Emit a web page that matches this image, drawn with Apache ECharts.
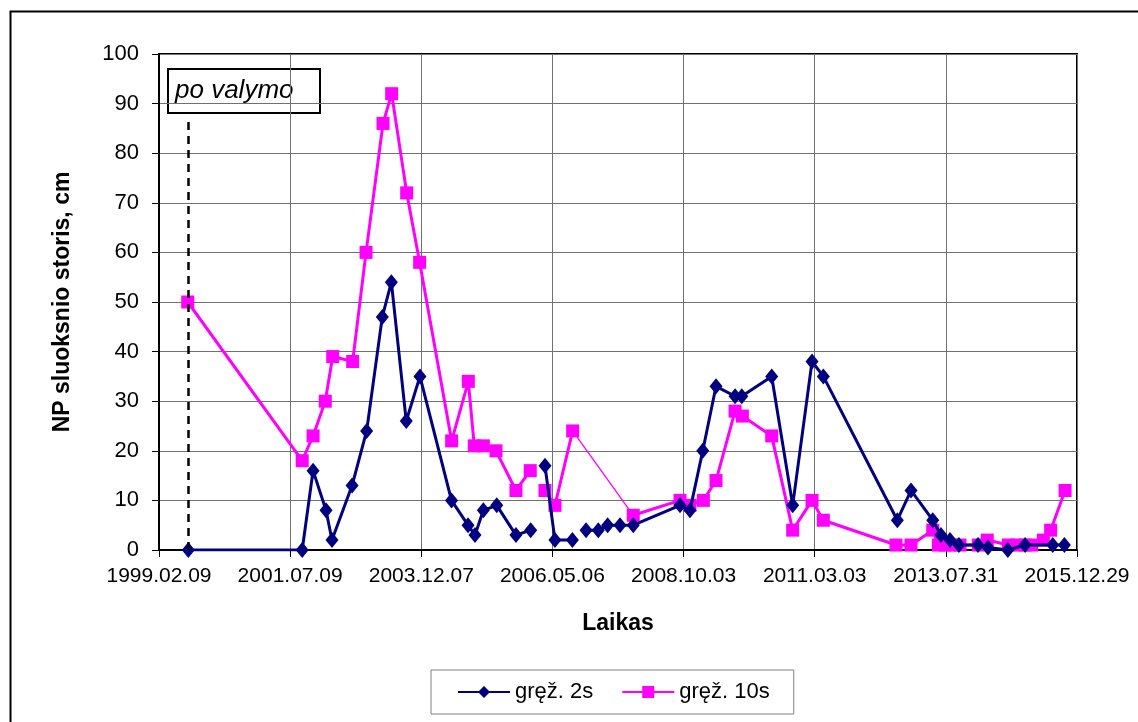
<!DOCTYPE html>
<html>
<head>
<meta charset="utf-8">
<script src="https://cdn.jsdelivr.net/npm/echarts@6/dist/echarts.min.js"></script>
<style>
  html, body { margin: 0; padding: 0; background: #fff; }
  #chart { width: 1138px; height: 722px; }
</style>
</head>
<body>
<div id="chart"></div>
<script>
// matavimų datos ir reikšmės (cm)
const dates2s = [
  '1999-08-25', '2001-09-28', '2001-12-10', '2002-03-07', '2002-04-16', '2002-08-29',
  '2002-12-05', '2003-03-20', '2003-05-20', '2003-08-28', '2003-11-28', '2004-06-27',
  '2004-10-16', '2004-12-02', '2005-01-27', '2005-04-27', '2005-09-03', '2005-12-11',
  '2006-03-17', '2006-05-23', '2006-09-17',
  '2006-12-18', '2007-03-10', '2007-05-12', '2007-08-03', '2007-10-31', '2008-09-09',
  '2008-11-15', '2009-02-09', '2009-05-09', '2009-09-14', '2009-10-29', '2010-05-18',
  '2010-10-06', '2011-02-13', '2011-04-30', '2012-09-08', '2012-12-09', '2013-05-04',
  '2013-06-28', '2013-08-28', '2013-10-27', '2014-03-04', '2014-05-10', '2014-09-20',
  '2015-01-14', '2015-07-19', '2015-10-05'
];
const vals2s = [
  0, 0, 16, 8, 2, 13,
  24, 47, 54, 26, 35, 10,
  5, 3, 8, 9, 3, 4,
  17, 2, 2,
  4, 4, 5, 5, 5, 9,
  8, 20, 33, 31, 31, 35,
  9, 38, 35, 6, 12, 6,
  3, 2, 1, 1, 0.5, 0,
  1, 1, 1
];
// linijos trūkiai: nuo šių indeksų prasideda nauja atkarpa
const segStarts2s = [0, 18, 21];

const dates10s = [
  '1999-08-21', '2001-09-28', '2001-12-10', '2002-03-02', '2002-04-21', '2002-09-02',
  '2002-12-01', '2003-03-25', '2003-05-22', '2003-08-31', '2003-11-26', '2004-06-28',
  '2004-10-18', '2004-11-27', '2005-01-27', '2005-04-22', '2005-09-03', '2005-12-08',
  '2006-03-17', '2006-05-23', '2006-09-19',
  '2007-10-31', '2008-09-09', '2008-11-15', '2009-02-13', '2009-05-09', '2009-09-14',
  '2009-11-02', '2010-05-18', '2010-10-06', '2011-02-13', '2011-04-30', '2012-08-30',
  '2012-12-09', '2013-05-04', '2013-06-11', '2013-07-26', '2013-09-19', '2013-11-03',
  '2014-03-06', '2014-05-05', '2014-09-24', '2014-11-19', '2015-01-14', '2015-02-28',
  '2015-05-17', '2015-07-05', '2015-10-10'
];
const vals10s = [
  50, 18, 23, 30, 39, 38,
  60, 86, 92, 72, 58, 22,
  34, 21, 21, 20, 12, 16,
  12, 9, 24,
  7, 10, 9, 10, 14, 28,
  27, 23, 4, 10, 6, 1,
  1, 4, 1, 1, 1, 1,
  1, 2, 1, 1, 1, 1,
  2, 4, 12
];
const segStarts10s = [0, 18, 21];
const thinLink10s = [20, 21]; // plona jungtis tarp šių taškų

const cleaningDate = '1999-08-22'; // "po valymo"
const axisStart = '1999-02-09';
const axisEnd = '2015-12-29';
const tickDays = 881;

const DAY = 86400000;
function toMs(s) {
  const p = s.split('-').map(Number);
  return Date.UTC(p[0], p[1] - 1, p[2]);
}
const base = toMs(axisStart);
const dayOf = s => (toMs(s) - base) / DAY;
const pad = n => (n < 10 ? '0' : '') + n;
function fmtDate(v) {
  const d = new Date(base + Math.round(v) * DAY);
  return d.getUTCFullYear() + '.' + pad(d.getUTCMonth() + 1) + '.' + pad(d.getUTCDate());
}

const BLUE = '#000080';
const PINK = '#FF00FF';
const NAME2 = 'gręž. 2s';
const NAME10 = 'gręž. 10s';
const FONT = 'Arial, "Liberation Sans", sans-serif';

function pairs(dates, vals, from, to) {
  const out = [];
  for (let i = from; i < to; i++) out.push([dayOf(dates[i]), vals[i]]);
  return out;
}

function buildSegments(dates, vals, starts, name, color, symbol, size) {
  return starts.map((s, k) => {
    const e = k + 1 < starts.length ? starts[k + 1] : dates.length;
    return {
      name: name,
      type: 'line',
      data: pairs(dates, vals, s, e),
      symbol: symbol,
      symbolSize: size,
      color: color,
      lineStyle: { color: color, width: 3 },
      itemStyle: { color: color },
      animation: false,
      z: symbol === 'rect' ? 3 : 4
    };
  });
}

const series = []
  .concat(buildSegments(dates10s, vals10s, segStarts10s, NAME10, PINK, 'rect', 13))
  .concat(buildSegments(dates2s, vals2s, segStarts2s, NAME2, BLUE, 'diamond', [13, 16]));

// plona rožinė jungtis
series.push({
  name: NAME10,
  type: 'line',
  data: pairs(dates10s, vals10s, thinLink10s[0], thinLink10s[1] + 1),
  symbol: 'none',
  lineStyle: { color: PINK, width: 1.3 },
  animation: false,
  z: 2
});

// punktyrinė linija "po valymo"
series.push({
  type: 'line',
  data: [],
  silent: true,
  animation: false,
  markLine: {
    silent: true,
    symbol: 'none',
    label: { show: false },
    lineStyle: { color: '#000', type: [8, 6], width: 2.5 },
    data: [[{ coord: [dayOf(cleaningDate), 0] }, { coord: [dayOf(cleaningDate), 86.5] }]]
  },
  z: 1
});

const chart = echarts.init(document.getElementById('chart'));
chart.setOption({
  backgroundColor: '#fff',
  animation: false,
  textStyle: { fontFamily: FONT, color: '#000' },
  grid: {
    left: 159, right: 61, top: 54, bottom: 172,
    show: true, borderColor: '#000', borderWidth: 2,
    outerBoundsMode: 'none'
  },
  legend: {
    data: [NAME2, NAME10],
    left: 431, top: 670, width: 363,
    padding: [11, 24, 11, 26],
    itemGap: 28,
    itemWidth: 52, itemHeight: 15,
    borderColor: '#808080', borderWidth: 1,
    backgroundColor: '#fff',
    textStyle: { fontSize: 22, color: '#000', fontFamily: FONT }
  },
  xAxis: {
    type: 'value',
    min: 0,
    max: dayOf(axisEnd),
    interval: tickDays,
    name: 'Laikas',
    nameLocation: 'middle',
    nameGap: 62,
    nameTextStyle: { fontSize: 23, fontWeight: 'bold', color: '#000' },
    axisLine: { lineStyle: { color: '#000', width: 2 } },
    axisTick: { show: true, length: 7, lineStyle: { color: '#000', width: 1 } },
    axisLabel: { fontSize: 21, color: '#000', margin: 16, formatter: fmtDate, showMaxLabel: true, showMinLabel: true },
    splitLine: { show: true, lineStyle: { color: '#707070', width: 1 } }
  },
  yAxis: {
    type: 'value',
    min: 0, max: 100, interval: 10,
    name: 'NP sluoksnio storis, cm',
    nameLocation: 'middle',
    nameGap: 85,
    nameRotate: 90,
    nameTextStyle: { fontSize: 23, fontWeight: 'bold', color: '#000' },
    axisLine: { show: true, lineStyle: { color: '#000', width: 2 } },
    axisTick: { show: true, length: 7, lineStyle: { color: '#000', width: 1 } },
    axisLabel: { fontSize: 22, color: '#000', margin: 20 },
    splitLine: { show: true, lineStyle: { color: '#707070', width: 1 } }
  },
  graphic: [
    {
      type: 'rect',
      left: 8, top: 9,
      shape: { width: 1140, height: 720 },
      style: { fill: 'none', stroke: '#000', lineWidth: 2 },
      silent: true, z: 0
    },
    {
      type: 'group',
      left: 167, top: 68,
      z: 100,
      children: [
        {
          type: 'rect',
          shape: { x: 0, y: 0, width: 152, height: 44 },
          style: { fill: '#fff', stroke: '#000', lineWidth: 2 }
        },
        {
          type: 'text',
          x: 7, y: 22,
          style: {
            text: 'po valymo',
            font: 'italic 26px ' + FONT,
            fill: '#000',
            verticalAlign: 'middle'
          }
        }
      ]
    }
  ],
  series: series
});
</script>
</body>
</html>
